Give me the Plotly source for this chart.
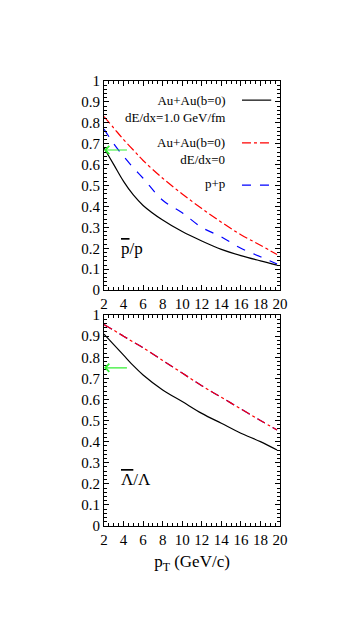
import plotly.graph_objects as go
from plotly.subplots import make_subplots

# ---- data ----
pt = [2, 3, 4, 5, 6, 8, 10, 12, 14, 16, 18, 19.7]
pbar_auau_loss = [0.68, 0.60, 0.52, 0.455, 0.405, 0.335, 0.28, 0.235, 0.195, 0.165, 0.14, 0.12]
pbar_auau_noloss = [0.83, 0.775, 0.72, 0.67, 0.62, 0.535, 0.46, 0.39, 0.325, 0.265, 0.215, 0.17]
pbar_pp = [0.77, 0.70, 0.64, 0.585, 0.535, 0.43, 0.37, 0.30, 0.255, 0.20, 0.16, 0.125]

lam_auau_loss = [0.91, 0.86, 0.81, 0.76, 0.716, 0.645, 0.59, 0.534, 0.487, 0.44, 0.40, 0.36]
lam_auau_noloss = [0.955, 0.928, 0.90, 0.872, 0.845, 0.785, 0.725, 0.665, 0.61, 0.555, 0.50, 0.455]
lam_pp = [0.955, 0.928, 0.90, 0.872, 0.845, 0.785, 0.725, 0.665, 0.61, 0.555, 0.50, 0.455]

arrow_y = [0.67, 0.75]
arrow_x0, arrow_x1 = 4.5, 2

x_ticks = [2, 4, 6, 8, 10, 12, 14, 16, 18, 20]
y_ticks = [0, 0.1, 0.2, 0.3, 0.4, 0.5, 0.6, 0.7, 0.8, 0.9, 1]
y_ticklabels = ["0", "0.1", "0.2", "0.3", "0.4", "0.5", "0.6", "0.7", "0.8", "0.9", "1"]

legend_labels = ["Au+Au(b=0)<br>dE/dx=1.0 GeV/fm", "Au+Au(b=0)<br>dE/dx=0", "p+p"]
panel_labels = ["<span style='text-decoration:overline'>p</span>/p",
                "<span style='text-decoration:overline'>Λ</span>/Λ"]

FONT = "Liberation Serif"
styles = [dict(color="black", width=1.2, dash="solid"),
          dict(color="red", width=1.2, dash="dashdot"),
          dict(color="blue", width=1.2, dash="dash")]

fig = make_subplots(rows=2, cols=1, vertical_spacing=0.056)

top = [pbar_auau_loss, pbar_auau_noloss, pbar_pp]
bot = [lam_auau_loss, lam_auau_noloss, lam_pp]
for i in range(3):
    fig.add_trace(go.Scatter(x=pt, y=top[i], mode="lines", line=dict(shape="spline", **styles[i]),
                             showlegend=False), row=1, col=1)
for i in [0, 2, 1]:
    fig.add_trace(go.Scatter(x=pt, y=bot[i], mode="lines", line=dict(shape="spline", **styles[i]),
                             showlegend=False), row=2, col=1)

axis_common = dict(showline=True, linecolor="black", linewidth=1, mirror="ticks",
                   ticks="inside", ticklen=5, tickcolor="black", showgrid=False, zeroline=False,
                   tickfont=dict(family=FONT, size=15, color="black"))
for r in [1, 2]:
    fig.update_xaxes(range=[2, 20], tickvals=x_ticks,
                     minor=dict(ticks="inside", ticklen=3, dtick=0.5, tickcolor="black"),
                     row=r, col=1, **axis_common)
    fig.update_yaxes(range=[0, 1], tickvals=y_ticks, ticktext=y_ticklabels,
                     minor=dict(ticks="inside", ticklen=3, dtick=0.02, tickcolor="black"),
                     row=r, col=1, **axis_common)

fig.update_xaxes(title=dict(text="p<sub>T</sub> (GeV/c)", font=dict(family=FONT, size=17, color="black"),
                            standoff=8), row=2, col=1)

# green arrows
for ax_name, yv in zip(["", "2"], arrow_y):
    fig.add_annotation(x=arrow_x1, y=yv, ax=arrow_x0, ay=yv, xref="x" + ax_name, yref="y" + ax_name,
                       axref="x" + ax_name, ayref="y" + ax_name, showarrow=True, arrowhead=4,
                       arrowsize=1.3, arrowwidth=1.2, arrowcolor="#33ee33", text="")

# panel labels
fig.add_annotation(x=4.9, y=0.2, xref="x", yref="y", text=panel_labels[0], showarrow=False,
                   font=dict(family=FONT, size=17, color="black"))
fig.add_annotation(x=5.3, y=0.22, xref="x2", yref="y2", text=panel_labels[1], showarrow=False,
                   font=dict(family=FONT, size=17, color="black"))

# legend (text right-aligned, line sample to the right) in top panel
leg_text_y = [0.978, 0.884, 0.790]
for lab, yy in zip(legend_labels, leg_text_y):
    fig.add_annotation(x=0.70, y=yy, xref="paper", yref="paper", text=lab, showarrow=False,
                       xanchor="right", yanchor="top", align="right",
                       font=dict(family=FONT, size=13, color="black"))

leg_line_y = [0.957, 0.861, 0.766]
for yy, st in zip(leg_line_y, styles):
    fig.add_shape(type="line", xref="paper", yref="paper", x0=0.784, x1=0.95, y0=yy, y1=yy,
                  line=dict(color=st["color"], width=st["width"], dash=st["dash"]))

fig.update_layout(width=346, height=623, margin=dict(l=96, r=74, t=73, b=105),
                  paper_bgcolor="white", plot_bgcolor="white",
                  font=dict(family=FONT, color="black"))
fig.update_yaxes(domain=[0.530, 1.0], row=1, col=1)
fig.update_yaxes(domain=[0.0, 0.474], row=2, col=1)

fig.write_html("out.html")
